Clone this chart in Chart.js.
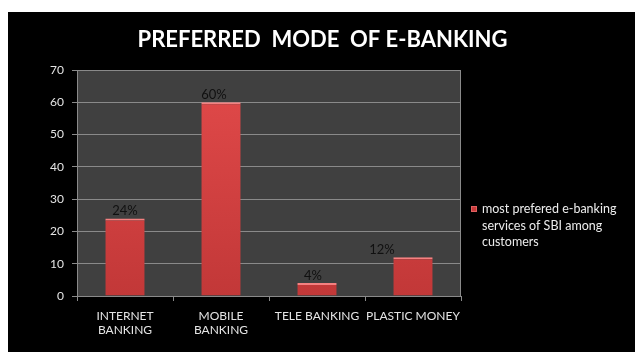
<!DOCTYPE html>
<html>
<head>
    <title>Preferred Mode of E-Banking</title>
    <script src="https://cdn.jsdelivr.net/npm/chart.js"></script>
    <style>
        body {
            margin: 0;
            background: #fff;
        }
        .panel {
            position: absolute;
            left: 8px;
            top: 12px;
            width: 627px;
            height: 340px;
            background: #000;
        }
    </style>
</head>
<body>
    <div class="panel">
        <canvas id="chart" width="627" height="340"></canvas>
    </div>

    <script>
        const chartTitle = 'PREFERRED  MODE  OF E-BANKING';
        const categories = [['INTERNET', 'BANKING'], ['MOBILE', 'BANKING'], 'TELE BANKING', 'PLASTIC MONEY'];
        const seriesName = 'most prefered e-banking services of SBI among customers';
        const values = [24, 60, 4, 12];
        const yTicks = [0, 10, 20, 30, 40, 50, 60, 70];

        // small horizontal nudges of the % labels, as in the original
        const labelShift = [0, -7, -4, -31];
        const font = 'Lato, "Open Sans", sans-serif';

        const decor = {
            id: 'decor',
            beforeDraw(chart) {
                const { ctx, chartArea: a } = chart;
                ctx.save();
                ctx.fillStyle = '#404040';
                ctx.fillRect(a.left, a.top, a.right - a.left, a.bottom - a.top);
                ctx.restore();
            },
            afterDraw(chart) {
                const { ctx, chartArea: a } = chart;
                ctx.save();
                // right border of plot
                ctx.strokeStyle = '#8a8a8a';
                ctx.lineWidth = 1;
                ctx.beginPath();
                ctx.moveTo(a.right - 0.5, a.top);
                ctx.lineTo(a.right - 0.5, a.bottom);
                ctx.stroke();

                // title
                ctx.fillStyle = '#fff';
                ctx.font = 'bold 22px ' + font;
                ctx.textAlign = 'center';
                ctx.textBaseline = 'middle';
                ctx.fillText(chartTitle, chart.width / 2 + 1, 28);

                // value labels
                const meta = chart.getDatasetMeta(0);
                ctx.fillStyle = '#101010';
                ctx.font = '13px ' + font;
                ctx.textBaseline = 'bottom';
                meta.data.forEach((bar, i) => {
                    ctx.fillText(values[i] + '%', bar.x + labelShift[i], bar.y - 1);
                });

                // legend
                const lx = 463, ly = 194;
                ctx.fillStyle = '#c83a3a';
                ctx.fillRect(lx, ly, 6, 6);
                ctx.strokeStyle = '#e06060';
                ctx.strokeRect(lx + 0.5, ly + 0.5, 5, 5);
                ctx.fillStyle = '#ececec';
                ctx.font = '12.5px ' + font;
                ctx.textAlign = 'left';
                ctx.textBaseline = 'middle';
                const words = seriesName.split(' ');
                let line = '', row = 0;
                words.forEach(w => {
                    const test = line ? line + ' ' + w : w;
                    if (ctx.measureText(test).width > 150 && line) {
                        ctx.fillText(line, lx + 11, ly + 3 + row * 16.5);
                        row++;
                        line = w;
                    } else {
                        line = test;
                    }
                });
                ctx.fillText(line, lx + 11, ly + 3 + row * 16.5);
                ctx.restore();
            }
        };

        new Chart(document.getElementById('chart'), {
            type: 'bar',
            data: {
                labels: categories,
                datasets: [{
                    label: seriesName,
                    data: values,
                    backgroundColor: ctx => {
                        const area = ctx.chart.chartArea;
                        if (!area) return '#d04040';
                        const g = ctx.chart.ctx.createLinearGradient(0, area.top, 0, area.bottom);
                        g.addColorStop(0, '#e24a4a');
                        g.addColorStop(1, '#c23838');
                        return g;
                    },
                    borderColor: '#f58080',
                    borderWidth: { top: 2, left: 0, right: 0, bottom: 0 },
                    borderSkipped: false,
                    barPercentage: 0.41,
                    categoryPercentage: 1
                }]
            },
            options: {
                responsive: false,
                animation: false,
                layout: { padding: { top: 58, right: 174, left: 0, bottom: 0 } },
                plugins: {
                    legend: { display: false },
                    tooltip: { enabled: false }
                },
                scales: {
                    x: {
                        afterFit: s => { s.height = 56; },
                        grid: { drawOnChartArea: false, drawTicks: true, tickLength: 5, color: '#8a8a8a' },
                        border: { color: '#8a8a8a' },
                        ticks: { color: '#e4e4e4', font: { family: font, size: 12 }, padding: 8, maxRotation: 0, autoSkip: false }
                    },
                    y: {
                        min: 0,
                        max: 70,
                        afterFit: s => { s.width = 69; },
                        afterBuildTicks: s => { s.ticks = yTicks.map(v => ({ value: v })); },
                        grid: { color: '#8a8a8a', tickLength: 5 },
                        border: { color: '#8a8a8a' },
                        ticks: { color: '#e4e4e4', font: { family: font, size: 12 }, padding: 8 }
                    }
                }
            },
            plugins: [decor]
        });
    </script>
</body>
</html>
